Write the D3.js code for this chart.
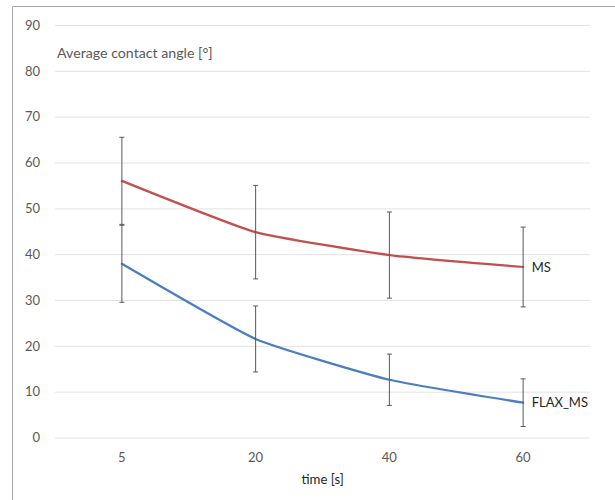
<!DOCTYPE html>
<html>
<head>
<meta charset="utf-8">
<script src="https://cdn.jsdelivr.net/npm/d3@7"></script>
<style>
  html, body { margin: 0; padding: 0; background: #fff; }
  svg { display: block; }
  text { font-family: Lato, "Open Sans", sans-serif; }
</style>
</head>
<body>
<svg id="chart" width="615" height="500"></svg>
<script>
const categories = ["5", "20", "40", "60"];
const yTicks = [0, 10, 20, 30, 40, 50, 60, 70, 80, 90];
const msValues = [56.0, 44.8, 39.8, 37.2];
const msErrors = [9.5, 10.2, 9.4, 8.7];
const flaxValues = [37.9, 21.5, 12.6, 7.6];
const flaxErrors = [8.4, 7.2, 5.6, 5.2];
const seriesNames = ["MS", "FLAX_MS"];
const yTitle = "Average contact angle [°]";
const xTitle = "time [s]";

const series = [
  { name: seriesNames[0], values: msValues, errors: msErrors, color: "#c0504d" },
  { name: seriesNames[1], values: flaxValues, errors: flaxErrors, color: "#4a7ebf" }
];

const svg = d3.select("#chart");

// outer border (left and top visible)
svg.append("path")
  .attr("d", "M12.5,500 V6.5 H615")
  .attr("fill", "none").attr("stroke", "#a6a6a6").attr("stroke-width", 1);

const x = d3.scaleBand().domain(categories).range([55, 590]).paddingInner(0).paddingOuter(0);
const y = d3.scaleLinear().domain([0, 90]).range([437.5, 25]);

// gridlines
const yAxis = d3.axisLeft(y).tickValues(yTicks).tickSize(-(590 - 55)).tickPadding(15);
const gy = svg.append("g").attr("transform", "translate(55,0)").call(yAxis);
gy.select(".domain").remove();
gy.selectAll(".tick line").attr("stroke", "#e3e3e3").attr("stroke-width", 1);
gy.selectAll(".tick text").attr("fill", "#595959").style("font-size", "13px")
  .style("font-family", "Lato, 'Open Sans', sans-serif");

// x axis labels
const xAxis = d3.axisBottom(x).tickSize(0).tickPadding(15);
const gx = svg.append("g").attr("transform", "translate(0,437.5)").call(xAxis);
gx.select(".domain").remove();
gx.selectAll(".tick text").attr("fill", "#595959").style("font-size", "13px")
  .style("font-family", "Lato, 'Open Sans', sans-serif");

// titles
svg.append("text").attr("x", 57).attr("y", 58).attr("fill", "#595959")
  .style("font-size", "14.2px").text(yTitle);
svg.append("text").attr("x", 301.5).attr("y", 483.5).attr("fill", "#262626")
  .style("font-size", "13.2px").text(xTitle);

const line = d3.line()
  .x((d, i) => x(categories[i]) + x.bandwidth() / 2)
  .y(d => y(d))
  .curve(d3.curveCardinal.tension(0.55));

series.forEach(s => {
  svg.append("path").datum(s.values)
    .attr("d", line).attr("fill", "none")
    .attr("stroke", s.color).attr("stroke-width", 2.25)
    .attr("stroke-linecap", "round");
});

series.forEach(s => {
  const g = svg.append("g");
  s.values.forEach((v, i) => {
    const cx = x(categories[i]) + x.bandwidth() / 2;
    const top = y(v + s.errors[i]), bot = y(v - s.errors[i]);
    g.append("line").attr("x1", cx).attr("x2", cx).attr("y1", top).attr("y2", bot)
      .attr("stroke", "#595959").attr("stroke-width", 1);
    [top, bot].forEach(yy => {
      g.append("line").attr("x1", cx - 2.5).attr("x2", cx + 2.5).attr("y1", yy).attr("y2", yy)
        .attr("stroke", "#595959").attr("stroke-width", 1);
    });
  });
  const last = s.values.length - 1;
  svg.append("text")
    .attr("x", x(categories[last]) + x.bandwidth() / 2 + 8.5)
    .attr("y", y(s.values[last]))
    .attr("dy", "0.35em")
    .attr("fill", "#262626").style("font-size", "13px")
    .text(s.name);
});
</script>
</body>
</html>
